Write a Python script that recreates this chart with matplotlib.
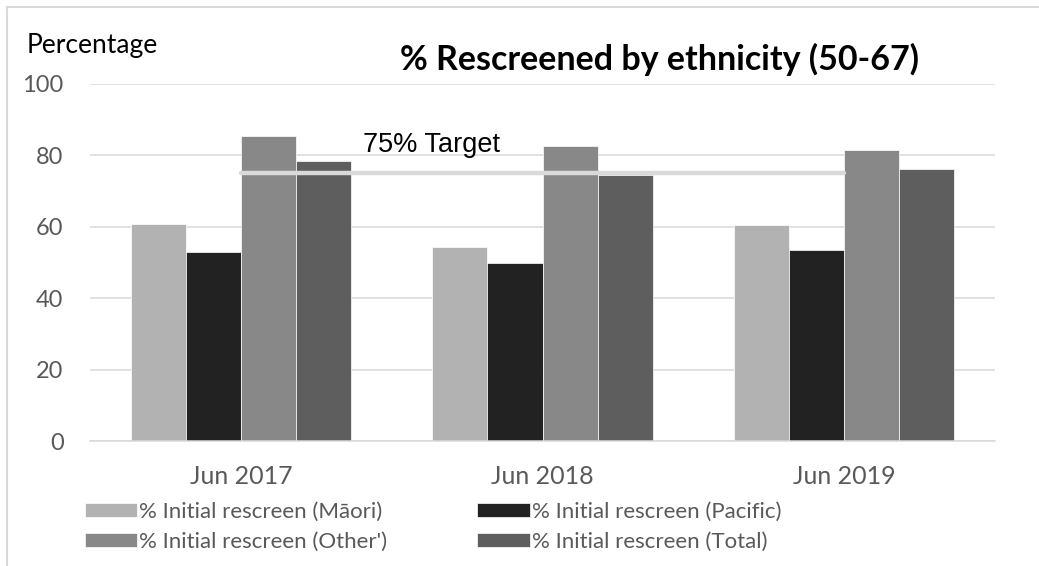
import numpy as np
import matplotlib.pyplot as plt
from matplotlib.lines import Line2D

# data
years = ["Jun 2017", "Jun 2018", "Jun 2019"]
maori = [60.8, 54.3, 60.4]
pacific = [53.0, 50.0, 53.4]
other = [85.5, 82.7, 81.5]
total = [78.3, 74.4, 76.2]
target = [75, 75, 75]

labels = ["% Initial rescreen (Māori)", "% Initial rescreen (Pacific)",
          "% Initial rescreen (Other')", "% Initial rescreen (Total)"]
colours = ["#b2b2b2", "#222222", "#888888", "#5e5e5e"]

plt.rcParams['font.family'] = ['Lato', 'DejaVu Sans']

fig = plt.figure(figsize=(10.39, 5.66), dpi=100)
ax = fig.add_axes([0.0866, 0.2208, 0.8711, 0.6308])

x = np.arange(len(years))
w = 0.1825
bars = []
for i, (vals, c, lab) in enumerate(zip([maori, pacific, other, total], colours, labels)):
    b = ax.bar(x + (i - 1.5) * w, vals, w, color=c, edgecolor='white', linewidth=0.5, label=lab, zorder=2)
    bars.append(b)

# 75% target line between category centres
ax.plot(x, target, color='#d9d9d9', lw=3.2, solid_capstyle='round', zorder=3)
ax.text(0.405, 81, "75% Target", family='Liberation Sans', fontsize=19.5, color='black', va='baseline', ha='left', zorder=4)

ax.set_xlim(-0.5, 2.5)
ax.set_ylim(0, 100)
ax.set_yticks([0, 20, 40, 60, 80, 100])
ax.set_xticks(x)
ax.set_xticklabels(years, fontsize=18)
ax.yaxis.grid(True, color='#d9d9d9', lw=1.1, zorder=0)
ax.set_axisbelow(True)
for s in ['top', 'right', 'left']:
    ax.spines[s].set_visible(False)
ax.spines['bottom'].set_color('#d9d9d9')
ax.spines['bottom'].set_linewidth(1.1)
ax.tick_params(axis='y', length=0, labelsize=17, labelcolor='#595959', pad=19)
ax.tick_params(axis='x', length=0, labelcolor='#595959', pad=17)

fig.text(0.026, 0.906, "Percentage", fontsize=19, color='black', va='baseline')
fig.text(0.385, 0.876, "% Rescreened by ethnicity (50-67)", fontsize=24.5, weight='bold', color='black', va='baseline')

# legend order: column 1 Maori / Other, column 2 Pacific / Total
order = [0, 2, 1, 3]
fig.legend(handles=[bars[i] for i in order], labels=[labels[i] for i in order], ncol=2,
           loc='upper left', bbox_to_anchor=(0.0818, 0.113),
           frameon=False, fontsize=16, handlelength=2.36, handleheight=0.6, handletextpad=0.08,
           columnspacing=4.05, labelspacing=0.43, borderaxespad=0, borderpad=0, labelcolor='#595959')

# chart area border (top and left visible)
fig.add_artist(Line2D([7 / 1039, 1], [1 - 7 / 566, 1 - 7 / 566], color='#d9d9d9', lw=1.5, transform=fig.transFigure))
fig.add_artist(Line2D([7 / 1039, 7 / 1039], [0, 1 - 7 / 566], color='#d9d9d9', lw=1.5, transform=fig.transFigure))

fig.savefig("out.png", dpi=100)
